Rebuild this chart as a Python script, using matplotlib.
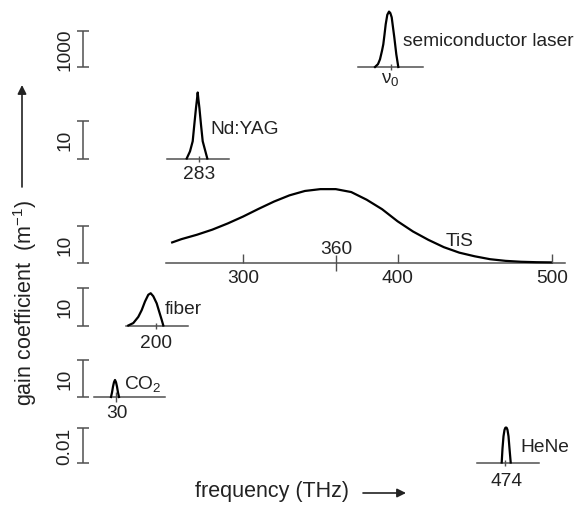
import matplotlib
matplotlib.use('Agg')
import matplotlib.pyplot as plt

W, H = 577, 506
plt.rcParams['font.family'] = ['Liberation Sans', 'DejaVu Sans']
plt.rcParams['mathtext.fontset'] = 'custom'
plt.rcParams['mathtext.rm'] = 'Liberation Sans'

# scale bars (gain coefficient, m^-1) for each row, top to bottom
scale_labels = ['1000', '10', '10', '10', '10', '0.01']
scale_values = [1000, 10, 10, 10, 10, 0.01]

# semiconductor laser (relative detuning, gain)
semi_dnu = [-15.7, -12.7, -10.7, -8.7, -7.4, -6.2, -5.0, -3.4, -1.7, -0.4, 1.0, 2.3, 3.6, 5.6, 7.6]
semi_gain = [0, 80, 214, 450, 630, 900, 1186, 1450, 1539, 1500, 1380, 1100, 825, 353, 0]

# Nd:YAG
nd_dnu = [-12.3, -9, -6.3, -4.7, -3, -2, -1.3, -0.6, 0.4, 2.0, 3.7, 6.4, 8.3]
nd_gain = [0, 1.9, 4.6, 9.0, 13.5, 15.8, 17.6, 15.8, 13.5, 9.0, 4.6, 1.9, 0]

# Ti:sapphire (THz, gain)
tis_freq = [254, 260, 270, 280, 290, 300, 310, 320, 330, 340, 350, 360, 370,
            380, 390, 400, 410, 420, 430, 440, 450, 460, 470, 480, 490, 500]
tis_gain = [5.5, 6.4, 7.6, 9.0, 10.7, 12.6, 14.7, 16.7, 18.4, 19.6, 20.1, 20.1, 19.3,
            17.2, 14.6, 11.3, 8.5, 6.2, 4.2, 2.7, 1.7, 0.9, 0.45, 0.2, 0.08, 0.03]
tis_ticks = [300, 400, 500]
tis_center = 360

# fiber
fiber_dnu = [-27.4, -22.4, -17.4, -14, -10.7, -7.4, -5, -2.4, 1, 3.6, 6, 7.6]
fiber_gain = [0, 0.65, 2.3, 4.1, 6.4, 8.2, 8.6, 7.8, 5.9, 3.6, 1.5, 0]

# CO2
co2_dnu = [-5, -4, -3, -2, -1, 0, 1, 2, 3]
co2_gain = [0, 1.2, 2.8, 4.0, 4.6, 4.0, 2.8, 1.2, 0]

# HeNe
hene_dnu = [-3.3, -2.5, -1.5, -0.5, 0.3, 1, 1.7, 2.5, 3.5, 4.5, 5.7]
hene_gain = [0, 0.004, 0.0075, 0.0093, 0.0099, 0.01, 0.0099, 0.0093, 0.0075, 0.004, 0]

TXT = '#222222'
LINE = '#505050'
FS = 13.8

fig = plt.figure(figsize=(W / 100, H / 100), dpi=100)


def px_axes(x0, y0, x1, y1):
    ax = fig.add_axes([x0 / W, 1 - y1 / H, (x1 - x0) / W, (y1 - y0) / H])
    ax.set_axis_off()
    return ax


def ptext(x, y, s, **kw):
    kw.setdefault('fontsize', FS)
    kw.setdefault('color', TXT)
    fig.text(x / W, 1 - y / H, s, **kw)


# row pixel bands (top of scale bar, baseline)
rows = [(32, 68), (122, 159.5), (227, 263.5), (289, 326.5), (361, 398), (428.5, 463.5)]

for (top, base), lab, val in zip(rows, scale_labels, scale_values):
    ax = px_axes(77, top, 89, base)
    ax.set_xlim(0, 1)
    ax.set_ylim(0, val)
    ax.errorbar([0.5], [val / 2], yerr=[val / 2], fmt='none', ecolor=LINE,
                elinewidth=1.1, capsize=4, capthick=1.1, clip_on=False)
    ax.annotate(lab, xy=(0.5, val / 2), xytext=(-13, 0), textcoords='offset points',
                rotation=90, ha='center', va='center', fontsize=FS, color=TXT)


def peak(x0, x1, row, dmin, dmax, dnu, gain, label, tick_ms, lab_dy, lab_dx=0):
    top, base = rows[row]
    ax = px_axes(x0, top, x1, base)
    ax.set_xlim(dmin, dmax)
    ax.set_ylim(0, scale_values[row])
    ax.axhline(0, color=LINE, lw=1.1, clip_on=False)
    ax.plot(dnu, gain, color='black', lw=1.6, clip_on=False, solid_joinstyle='round')
    ax.plot([0], [0], marker='|', ms=tick_ms, mew=1.0, color=LINE, clip_on=False)
    ax.annotate(label, xy=(0, 0), xytext=(lab_dx, lab_dy), textcoords='offset points',
                ha='center', va='center', fontsize=FS, color=TXT)
    return ax


peak(358, 423, 0, -32.7, 32.3, semi_dnu, semi_gain, r'ν$_\mathregular{0}$', 5, -9)
peak(166.7, 229.3, 1, -32.3, 30.3, nd_dnu, nd_gain, '283', 5, -11)
peak(126, 188.3, 3, -29.7, 32.6, fiber_dnu, fiber_gain, '200', 5, -12)
peak(94, 165, 4, -22, 49, co2_dnu, co2_gain, '30', 7, -11, 0.5)
peak(476.7, 539.3, 5, -28.3, 34.3, hene_dnu, hene_gain, '474', 4, -13, 1.4)

# Ti:sapphire broad gain curve on its own frequency axis
top, base = rows[2]
ax = px_axes(166, top, 565, base)
ax.set_xlim(250, 508.5)
ax.set_ylim(0, scale_values[2])
ax.axhline(0, color=LINE, lw=1.1, clip_on=False)
ax.plot(tis_freq, tis_gain, color='black', lw=1.6, clip_on=False)
ax.plot(tis_ticks, [0] * len(tis_ticks), marker=2, ls='none', ms=6.5, mew=1.0,
        color=LINE, clip_on=False)
for f in tis_ticks:
    ax.annotate(str(f), xy=(f, 0), xytext=(0, -10.5), textcoords='offset points',
                ha='center', va='center', fontsize=FS, color=TXT)
ax.plot([tis_center], [0], marker='|', ms=11, mew=1.0, color=LINE, clip_on=False)
ax.annotate(str(tis_center), xy=(tis_center, 0), xytext=(0, 10), textcoords='offset points',
            ha='center', va='center', fontsize=FS, color=TXT)

# curve names
ptext(403, 42, 'semiconductor laser', ha='left', va='center')
ptext(210, 129, 'Nd:YAG', ha='left', va='center')
ptext(460, 241, 'TiS', ha='center', va='center')
ptext(165, 310, 'fiber', ha='left', va='center')
ptext(124, 385, r'CO$_\mathregular{2}$', ha='left', va='center')
ptext(520, 448, 'HeNe', ha='left', va='center')

# axis labels with arrows
ptext(25, 303, 'gain coefficient  (m$^{\\mathregular{-1}}$)', rotation=90,
      ha='center', va='center', fontsize=15.5)
ptext(272, 492, 'frequency (THz)', ha='center', va='center', fontsize=15.5)
ann_kw = dict(xycoords='figure pixels', textcoords='figure pixels',
              arrowprops=dict(arrowstyle='-|>', lw=1.2, color=TXT, mutation_scale=13,
                              shrinkA=0, shrinkB=0))
fig.axes[0].annotate('', xy=(22, H - 86), xytext=(22, H - 188), **ann_kw)
fig.axes[0].annotate('', xy=(406, H - 494), xytext=(363, H - 494), **ann_kw)

fig.savefig('out.png', dpi=100)
